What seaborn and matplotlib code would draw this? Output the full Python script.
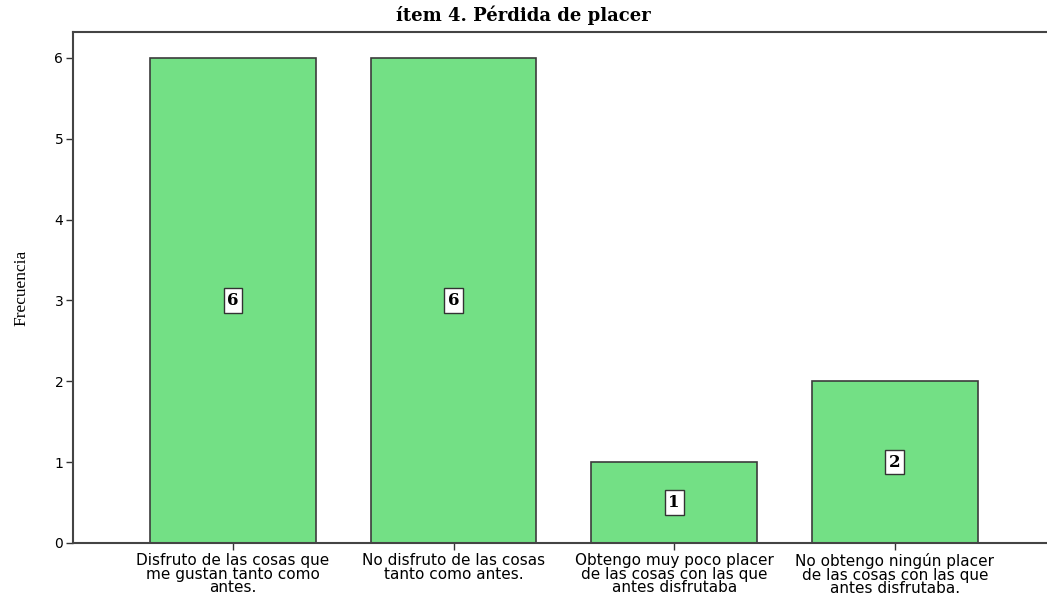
import matplotlib.pyplot as plt
import pandas as pd
import seaborn as sns

TITLE = "ítem 4. Pérdida de placer"
Y_LABEL = "Frecuencia"

categories = [
    "Disfruto de las cosas que\nme gustan tanto como\nantes.",
    "No disfruto de las cosas\ntanto como antes.",
    "Obtengo muy poco placer\nde las cosas con las que\nantes disfrutaba",
    "No obtengo ningún placer\nde las cosas con las que\nantes disfrutaba.",
]
counts = [6, 6, 1, 2]

BAR_COLOR = "#73e085"
EDGE_COLOR = "#3c3c3c"


def main() -> None:
    df = pd.DataFrame({"respuesta": categories, "frecuencia": counts})

    sns.set_style("white")
    plt.rcParams["font.family"] = ["DejaVu Sans"]
    fig = plt.figure(figsize=(10.47, 5.99), dpi=100)
    ax = fig.add_axes([0.0697, 0.0935, 0.9303, 0.8531])

    sns.barplot(
        data=df,
        x="respuesta",
        y="frecuencia",
        color=BAR_COLOR,
        edgecolor=EDGE_COLOR,
        linewidth=1.2,
        width=0.752,
        saturation=1,
        ax=ax,
    )

    for i, value in enumerate(counts):
        ax.text(
            i,
            value / 2,
            str(value),
            ha="center",
            va="center",
            fontsize=12,
            fontweight="bold",
            family="DejaVu Serif",
            color="black",
            bbox=dict(boxstyle="square,pad=0.22", facecolor="white",
                      edgecolor="#333333", linewidth=1),
        )

    ax.set_xlim(-0.725, 3.69)
    ax.set_ylim(0, 6.32)
    ax.set_yticks(range(0, 7))

    # title is centred on the whole figure, not on the axes
    fig.text(0.5, 1 - 15 / 599, TITLE, ha="center", va="center",
             fontsize=13, fontweight="bold", family="DejaVu Serif",
             color="black")
    ax.set_ylabel(Y_LABEL, fontsize=12.5, family="Liberation Serif",
                  color="black", labelpad=18)
    ax.set_xlabel("")

    ax.tick_params(axis="both", which="both", direction="out", length=5,
                   width=1, color="#333333", labelcolor="black", pad=2,
                   left=True, bottom=True)
    ax.tick_params(axis="x", labelsize=11)
    ax.tick_params(axis="y", labelsize=10)
    for label in ax.get_xticklabels():
        label.set_linespacing(0.9)

    for side in ["left", "bottom", "top"]:
        ax.spines[side].set_color("#444444")
        ax.spines[side].set_linewidth(1.5)
    ax.spines["right"].set_visible(False)

    fig.savefig("out.png", dpi=100)
    plt.close(fig)


if __name__ == "__main__":
    main()
